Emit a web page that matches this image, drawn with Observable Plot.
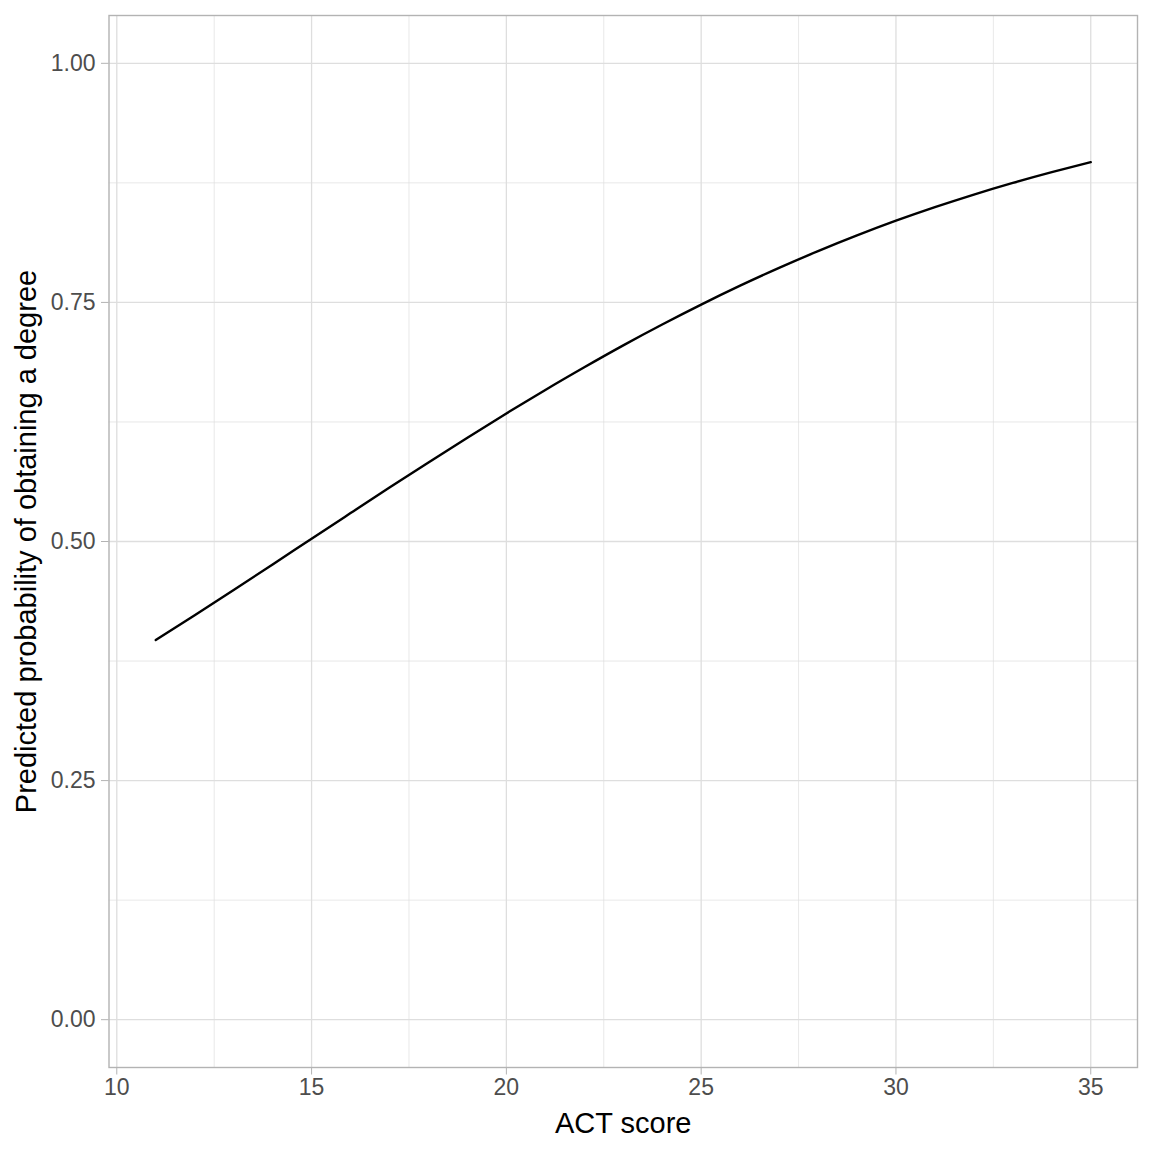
<!DOCTYPE html>
<html>
<head>
<meta charset="utf-8">
<script src="https://cdn.jsdelivr.net/npm/d3@7"></script>
<script src="https://cdn.jsdelivr.net/npm/@observablehq/plot@0.6"></script>
<style>
  html, body { margin: 0; padding: 0; background: #fff; }
  body { width: 1152px; height: 1152px; }
  svg { font-family: "Liberation Sans", Arial, Helvetica, sans-serif; }
</style>
</head>
<body>
<div id="chart"></div>
<script>
// Data
const actScore = [11, 12, 13, 14, 15, 16, 17, 18, 19, 20, 21, 22, 23, 24, 25, 26, 27, 28, 29, 30, 31, 32, 33, 34, 35];
const predictedProb = [0.3969, 0.4229, 0.4493, 0.4760, 0.5029, 0.5297, 0.5564, 0.5827, 0.6086, 0.6339, 0.6585, 0.6822, 0.7051, 0.7269, 0.7477, 0.7675, 0.7861, 0.8036, 0.8200, 0.8354, 0.8496, 0.8628, 0.8750, 0.8863, 0.8967];
const xTicks = [10, 15, 20, 25, 30, 35];
const xMinorTicks = [12.5, 17.5, 22.5, 27.5, 32.5];
const yTicks = [0, 0.25, 0.5, 0.75, 1.0];
const yMinorTicks = [0.125, 0.375, 0.625, 0.875];
const xTitle = "ACT score";
const yTitle = "Predicted probability of obtaining a degree";

const data = actScore.map((x, i) => ({x, y: predictedProb[i]}));

const chart = Plot.plot({
  width: 1152,
  height: 1152,
  marginLeft: 108.5,
  marginRight: 15,
  marginTop: 15,
  marginBottom: 85,
  x: {domain: [9.8, 36.2]},
  y: {domain: [-0.05, 1.05]},
  style: {background: "#fff", overflow: "visible"},
  marks: [
    Plot.gridX(xMinorTicks, {stroke: "#dedede", strokeOpacity: 1, strokeWidth: 0.7}),
    Plot.gridY(yMinorTicks, {stroke: "#dedede", strokeOpacity: 1, strokeWidth: 0.7}),
    Plot.gridX(xTicks, {stroke: "#dedede", strokeOpacity: 1, strokeWidth: 1.3}),
    Plot.gridY(yTicks, {stroke: "#dedede", strokeOpacity: 1, strokeWidth: 1.3}),
    Plot.line(data, {x: "x", y: "y", stroke: "#000", strokeWidth: 2.4, curve: "natural"}),
    Plot.frame({stroke: "#b3b3b3", strokeWidth: 1.4}),
    Plot.axisX(xTicks, {
      tickSize: 7.5, tickPadding: 4, fontSize: 23, stroke: "#b3b3b3", fill: "#4d4d4d",
      tickFormat: d => String(d), label: null
    }),
    Plot.axisY(yTicks, {
      tickSize: 7.5, tickPadding: 6, fontSize: 23, stroke: "#b3b3b3", fill: "#4d4d4d",
      tickFormat: d => d.toFixed(2), label: null
    }),
    Plot.text([xTitle], {frameAnchor: "bottom", dy: 56, fontSize: 29, fill: "#000", textAnchor: "middle", lineAnchor: "middle", text: d => d}),
    Plot.text([yTitle], {frameAnchor: "left", dx: -82, rotate: -90, fontSize: 29, fill: "#000", textAnchor: "middle", lineAnchor: "middle", text: d => d})
  ]
});
document.getElementById("chart").appendChild(chart);
</script>
</body>
</html>
